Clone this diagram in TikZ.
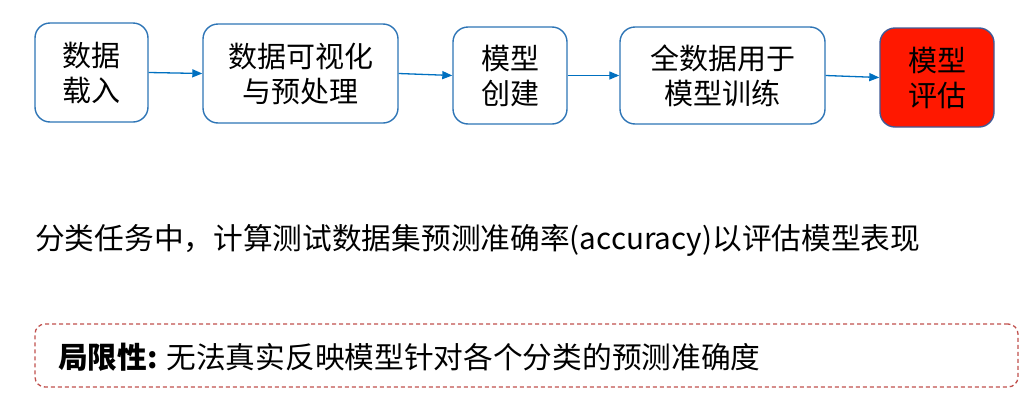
\documentclass[tikz,border=0pt]{standalone}
\usepackage{fontspec}
\setmainfont{Noto Sans CJK SC}
\usetikzlibrary{arrows.meta}
\definecolor{boxblue}{RGB}{46,117,182}
\definecolor{arrowblue}{RGB}{0,112,192}
\definecolor{evalred}{RGB}{255,24,0}
\definecolor{evalborder}{RGB}{65,90,150}
\definecolor{dashred}{RGB}{192,80,77}
\tikzset{
  x=1pt, y=1pt,
  stepbox/.style={draw=boxblue, line width=1.4pt, rounded corners=15pt, fill=white,
    align=center, inner sep=0pt, font=\fontsize{29}{35}\selectfont},
  evalbox/.style={stepbox, draw=evalborder, fill=evalred},
  flow/.style={draw=arrowblue, line width=1.3pt, -{Triangle[length=10pt,width=8pt]}},
  bodytext/.style={anchor=west, inner sep=0pt, font=\fontsize{29.7}{36}\selectfont},
  limitbox/.style={draw=dashred, line width=1.3pt, dash pattern=on 4pt off 3pt, rounded corners=10pt, inner sep=0pt}
}
\begin{document}
\begin{tikzpicture}
\useasboundingbox (0,0) rectangle (1035,-402);
\node[stepbox, minimum width=113pt, minimum height=99pt] (b1) at (91.5,-72.5) {数据\\载入};
\node[stepbox, minimum width=195pt, minimum height=99pt] (b2) at (300.5,-73.5) {数据可视化\\与预处理};
\node[stepbox, minimum width=114pt, minimum height=97pt] (b3) at (510,-75.5) {模型\\创建};
\node[stepbox, minimum width=205pt, minimum height=97pt] (b4) at (722.5,-75.5) {全数据用于\\模型训练};
\node[evalbox, minimum width=114pt, minimum height=99pt] (b5) at (937,-77.5) {模型\\评估};
\draw[flow] (b1.east) -- (b2.west);
\draw[flow] (b2.east) -- (b3.west);
\draw[flow] (b3.east) -- (b4.west);
\draw[flow] (b4.east) -- (b5.west);
\node[bodytext] (t1) at (35,-240) {分类任务中，计算测试数据集预测准确率(accuracy)以评估模型表现};
\node[limitbox, minimum width=983pt, minimum height=63pt] (lim) at (526.5,-355.5) {};
\node[bodytext] (t2) at (58,-357) {\textbf{局限性:} 无法真实反映模型针对各个分类的预测准确度};
\end{tikzpicture}
\end{document}
